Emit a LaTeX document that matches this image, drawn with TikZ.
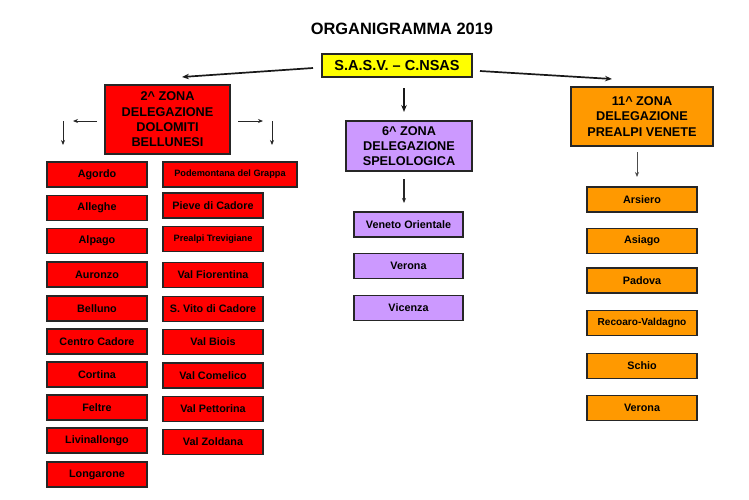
\documentclass[tikz,border=0pt]{standalone}
\usepackage{fontspec}
\setmainfont{Liberation Sans}
\usepackage{xcolor}
\usepackage{tikz}
\usetikzlibrary{positioning,arrows.meta,shadows}
\definecolor{rosso}{HTML}{FF0000}
\definecolor{giallo}{HTML}{FFFF00}
\definecolor{viola}{HTML}{CC99FF}
\definecolor{arancio}{HTML}{FF9900}
\tikzset{
  box/.style={draw=black!85,line width=1.1pt,inner sep=0pt,align=center,
    drop shadow={shadow xshift=0.9pt,shadow yshift=-0.9pt,fill=black!30,opacity=1}},
  zona/.style={box,font=\fontsize{12.7}{15.3}\selectfont\bfseries},
  sede/.style={box,minimum height=25pt,font=\fontsize{10.8}{12}\selectfont\bfseries},
  bigarr/.style={-{Stealth[length=7pt,width=5.5pt]},line width=1.7pt,black!90},
  smallarr/.style={-{Stealth[length=5pt,width=4pt]},line width=0.8pt,black!85}
}

\begin{document}
\begin{tikzpicture}[x=1pt,y=-1pt]
  \useasboundingbox (0,0) rectangle (749,499);
  \node[font=\fontsize{16.4}{19}\selectfont\bfseries] (tit) at (402,29){ORGANIGRAMMA 2019};
  \node[box,fill=giallo,minimum width=150pt,minimum height=23pt,font=\fontsize{14.5}{16}\selectfont\bfseries] (sasv) at (397,65.5){S.A.S.V. -- C.NSAS};
  % zone
  \node[zona,fill=rosso,minimum width=125pt,minimum height=69pt] (z2) at (167.5,119.5){2\^{} ZONA\\DELEGAZIONE\\DOLOMITI\\BELLUNESI};
  \node[zona,fill=viola,minimum width=126pt,minimum height=50pt] (z6) at (409,146){6\^{} ZONA\\DELEGAZIONE\\SPELOLOGICA};
  \node[zona,fill=arancio,minimum width=142pt,minimum height=59pt] (z11) at (642,116.5){11\^{} ZONA\\DELEGAZIONE\\PREALPI VENETE};
  % 2^ zona, prima colonna
  \node[sede,fill=rosso,minimum width=100pt] (agordo) at (97,174.5){Agordo};
  \node[sede,fill=rosso,minimum width=100pt] (alleghe) at (97,208){Alleghe};
  \node[sede,fill=rosso,minimum width=100pt] (alpago) at (97,241){Alpago};
  \node[sede,fill=rosso,minimum width=100pt] (auronzo) at (97,274.5){Auronzo};
  \node[sede,fill=rosso,minimum width=100pt] (belluno) at (97,308.5){Belluno};
  \node[sede,fill=rosso,minimum width=100pt] (centro) at (97,341.5){Centro Cadore};
  \node[sede,fill=rosso,minimum width=100pt] (cortina) at (97,374.5){Cortina};
  \node[sede,fill=rosso,minimum width=100pt] (feltre) at (97,407.5){Feltre};
  \node[sede,fill=rosso,minimum width=100pt] (livin) at (97,440.5){Livinallongo};
  \node[sede,fill=rosso,minimum width=100pt] (longa) at (97,474.5){Longarone};
  % 2^ zona, seconda colonna
  \node[sede,fill=rosso,minimum width=134pt,font=\fontsize{9.2}{11}\selectfont\bfseries] (podem) at (230,174.5){Podemontana del Grappa};
  \node[sede,fill=rosso,minimum width=100pt] (pieve) at (213,205.5){Pieve di Cadore};
  \node[sede,fill=rosso,minimum width=100pt,font=\fontsize{9.2}{11}\selectfont\bfseries] (trevig) at (213,239){Prealpi Trevigiane};
  \node[sede,fill=rosso,minimum width=100pt] (fioren) at (213,275){Val Fiorentina};
  \node[sede,fill=rosso,minimum width=100pt] (svito) at (213,309){S. Vito di Cadore};
  \node[sede,fill=rosso,minimum width=100pt] (biois) at (213,342){Val Biois};
  \node[sede,fill=rosso,minimum width=100pt] (comel) at (213,375.5){Val Comelico};
  \node[sede,fill=rosso,minimum width=100pt] (petto) at (213,409){Val Pettorina};
  \node[sede,fill=rosso,minimum width=100pt] (zold) at (213,442){Val Zoldana};
  % 6^ zona
  \node[sede,fill=viola,minimum width=109pt] (venor) at (408.5,224.5){Veneto Orientale};
  \node[sede,fill=viola,minimum width=109pt] (vrspel) at (408.5,266){Verona};
  \node[sede,fill=viola,minimum width=109pt] (vicenza) at (408.5,308){Vicenza};
  % 11^ zona
  \node[sede,fill=arancio,minimum width=110pt] (arsiero) at (642,199.5){Arsiero};
  \node[sede,fill=arancio,minimum width=110pt] (asiago) at (642,241){Asiago};
  \node[sede,fill=arancio,minimum width=110pt] (padova) at (642,280.5){Padova};
  \node[sede,fill=arancio,minimum width=110pt,font=\fontsize{10.1}{12}\selectfont\bfseries] (recoaro) at (642,323){Recoaro-Valdagno};
  \node[sede,fill=arancio,minimum width=110pt] (schio) at (642,366){Schio};
  \node[sede,fill=arancio,minimum width=110pt] (vrpre) at (642,408){Verona};
  % frecce
  \coordinate (sx) at (313,68);  \coordinate (sxe) at (182,77);
  \coordinate (dx) at (480,71);  \coordinate (dxe) at (612,79);
  \coordinate (gi) at (404,88);  \coordinate (gie) at (404,112);
  \coordinate (sp) at (404,179); \coordinate (spe) at (404,203);
  \coordinate (pv) at (637,152); \coordinate (pve) at (637,177);
  \coordinate (bl) at (97,121);  \coordinate (ble) at (73,121);
  \coordinate (bld) at (63,121); \coordinate (blde) at (63,145);
  \coordinate (br) at (238,121); \coordinate (bre) at (263,121);
  \coordinate (brd) at (272,121); \coordinate (brde) at (272,145);
  \draw[bigarr] (sx)--(sxe); \draw[bigarr] (dx)--(dxe); \draw[bigarr] (gi)--(gie);
  \draw[smallarr,line width=1.1pt] (sp)--(spe); \draw[smallarr,black!70] (pv)--(pve);
  \draw[smallarr] (bl)--(ble); \draw[smallarr] (bld)--(blde);
  \draw[smallarr] (br)--(bre); \draw[smallarr] (brd)--(brde);
\end{tikzpicture}
\end{document}
